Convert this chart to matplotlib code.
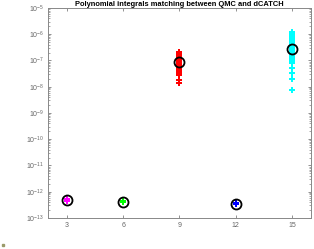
import matplotlib
matplotlib.use("Agg")
import matplotlib.pyplot as plt
from matplotlib.ticker import LogLocator, FixedLocator, NullFormatter

plt.rcParams["font.family"] = ["Liberation Sans", "DejaVu Sans"]
plt.rcParams["mathtext.fontset"] = "custom"
plt.rcParams["mathtext.rm"] = "Liberation Sans"

degrees = [3, 6, 9, 12, 15]
colors = ["#ff00ff", "#00ff00", "#ff0000", "#0000ff", "#00ffff"]

vals_3 = [4.6e-13, 4.8e-13, 5.0e-13, 5.2e-13, 4.9e-13]
vals_6 = [4.0e-13, 4.2e-13, 4.4e-13, 4.1e-13, 4.3e-13]
vals_9 = [2.1e-7, 1.9e-7, 1.7e-7, 1.5e-7, 1.3e-7, 1.15e-7, 1.0e-7, 9.0e-8, 8.0e-8,
          7.0e-8, 6.2e-8, 5.5e-8, 4.8e-8, 4.2e-8, 3.6e-8, 3.1e-8, 2.8e-8, 1.8e-8, 1.4e-8]
vals_12 = [3.3e-13, 3.5e-13, 3.7e-13, 3.4e-13, 3.6e-13]
vals_15 = [1.25e-6, 1.1e-6, 9.5e-7, 8.0e-7, 6.8e-7, 5.8e-7, 5.0e-7, 4.2e-7, 3.5e-7,
           3.0e-7, 2.5e-7, 2.1e-7, 1.8e-7, 1.5e-7, 1.25e-7, 1.05e-7, 9.0e-8, 8.0e-8,
           5.2e-8, 3.2e-8, 2.0e-8, 7.5e-9]
groups = [vals_3, vals_6, vals_9, vals_12, vals_15]
means = [4.9e-13, 4.2e-13, 8.7e-8, 3.5e-13, 2.7e-7]

title = "Polynomial integrals matching between QMC and dCATCH"

fig = plt.figure(figsize=(3.14, 2.49), dpi=100)
ax = fig.add_axes([0.153, 0.1245, 0.837, 0.8435])

for d, vals, c, m in zip(degrees, groups, colors, means):
    ax.plot([d] * len(vals), vals, linestyle="none", marker="P", markersize=5,
            color=c, markeredgewidth=0)
    ax.plot([d], [m], linestyle="none", marker="o", markersize=7.2,
            markerfacecolor="none", markeredgecolor="black", markeredgewidth=1.3)

ax.set_yscale("log")
ax.set_xlim(2, 16)
ax.set_ylim(1e-13, 1e-5)
ax.xaxis.set_major_locator(FixedLocator(degrees))
ax.yaxis.set_major_locator(LogLocator(base=10, numticks=20))
ax.yaxis.set_minor_locator(LogLocator(base=10, subs=range(2, 10), numticks=20))
ax.yaxis.set_minor_formatter(NullFormatter())
ax.tick_params(axis="both", which="both", direction="in", top=True, right=True,
               labelsize=5, colors="#666666", length=2.5, width=0.5, pad=3)
ax.tick_params(axis="y", which="minor", length=1.5, width=0.4)
for s in ax.spines.values():
    s.set_color("#888888")
    s.set_linewidth(0.7)
ax.set_title(title, fontsize=5.4, fontweight="bold", pad=1.5)

fig.patches.append(plt.Rectangle((0.006, 0.012), 0.006, 0.008, transform=fig.transFigure,
                                 color="#9a9a6a", figure=fig))

fig.savefig("out.png", dpi=100)
